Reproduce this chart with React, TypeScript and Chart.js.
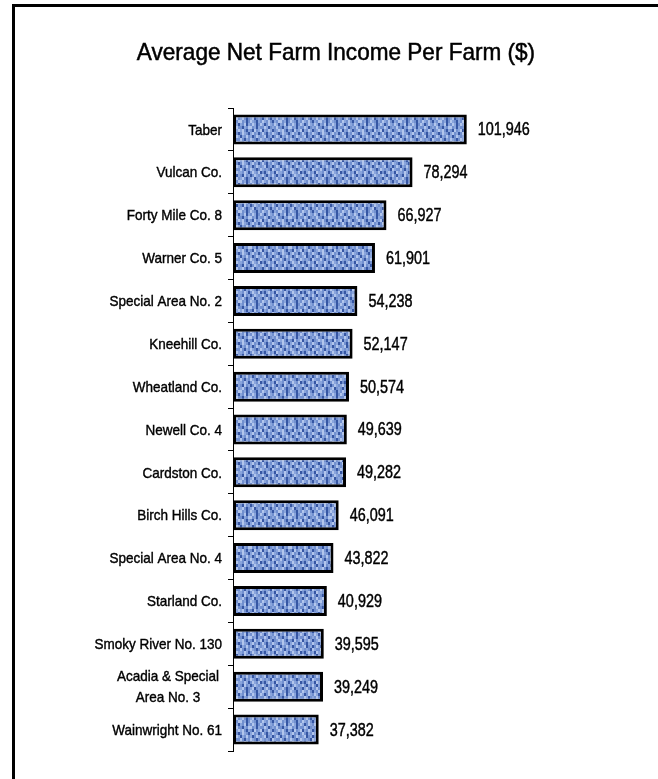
import React, { useEffect, useRef } from "react";
import { Chart, registerables } from "chart.js";

Chart.register(...registerables);

const chartTitle = "Average Net Farm Income Per Farm ($)";
const categories: (string | string[])[] = [
  "Taber",
  "Vulcan Co.",
  "Forty Mile Co. 8",
  "Warner Co. 5",
  "Special Area No. 2",
  "Kneehill Co.",
  "Wheatland Co.",
  "Newell Co. 4",
  "Cardston Co.",
  "Birch Hills Co.",
  "Special Area No. 4",
  "Starland Co.",
  "Smoky River No. 130",
  ["Acadia & Special", "Area No. 3"],
  "Wainwright No. 61",
];
const values = [
  101946, 78294, 66927, 61901, 54238, 52147, 50574, 49639, 49282, 46091, 43822,
  40929, 39595, 39249, 37382,
];
const axisMax = 150000;

const FONT = "'Liberation Sans', Arial, sans-serif";

// denim-like weave tile (style only)
const weaveRows = [
  "lmbdmlbmdbmlbmlmdbml",
  "bmldbmlbdmlbdmlbmlbd",
  "mdbmllmbdbmmlbdmbmlm",
  "blmdbmdlmbldbmlbdmbl",
  "mlbmdblmbdmlmdbmlbmd",
  "dbmlmbdmlbmbldmbdmlb",
  "lmdbmlbmdmlbmbmdlbmm",
  "bmlbdmlbmldmdblmbdlb",
  "mdlmbdmlbmblmdbmlmdb",
  "blmdmbldmbmdblmdbmlm",
];
const weaveColors: Record<string, string> = {
  l: "#b3c6ec",
  m: "#7290cf",
  b: "#8aa5dc",
  d: "#3656a3",
};

function makePattern(ctx: CanvasRenderingContext2D): CanvasPattern | string {
  const c = document.createElement("canvas");
  const cw = 2;
  const ch = 3;
  c.width = weaveRows[0].length * cw;
  c.height = weaveRows.length * ch;
  const t = c.getContext("2d");
  if (!t) return "#7f9ad6";
  weaveRows.forEach((row, r) => {
    row.split("").forEach((k, i) => {
      t.fillStyle = weaveColors[k];
      t.fillRect(i * cw, r * ch, cw, ch);
    });
  });
  return ctx.createPattern(c, "repeat") || "#7f9ad6";
}

function drawText(
  ctx: CanvasRenderingContext2D,
  text: string,
  x: number,
  y: number,
  align: CanvasTextAlign,
  sx: number,
  stroke: number
) {
  ctx.save();
  ctx.translate(x, y);
  ctx.scale(sx, 1);
  ctx.textAlign = align;
  ctx.fillText(text, 0, 0);
  if (stroke > 0) {
    ctx.lineWidth = stroke;
    ctx.strokeStyle = ctx.fillStyle as string;
    ctx.strokeText(text, 0, 0);
  }
  ctx.restore();
}

const decorPlugin = {
  id: "decor",
  beforeDraw(chart: any) {
    const ctx = chart.ctx as CanvasRenderingContext2D;
    ctx.save();
    ctx.fillStyle = "#ffffff";
    ctx.fillRect(0, 0, chart.width, chart.height);
    ctx.fillStyle = "#000000";
    ctx.fillRect(12, 4, chart.width - 12, 3);
    ctx.fillRect(12, 4, 3, chart.height - 4);
    ctx.fillStyle = "#000000";
    ctx.font = `24px ${FONT}`;
    ctx.textBaseline = "middle";
    drawText(ctx, chartTitle, 336, 53, "center", 0.94, 0.5);
    ctx.restore();
  },
  afterDatasetsDraw(chart: any) {
    const ctx = chart.ctx as CanvasRenderingContext2D;
    const meta = chart.getDatasetMeta(0);
    const yScale = chart.scales.y;
    ctx.save();
    ctx.fillStyle = "#000000";
    ctx.textBaseline = "middle";
    // value labels
    ctx.font = `18px ${FONT}`;
    meta.data.forEach((bar: any, i: number) => {
      drawText(ctx, values[i].toLocaleString("en-US"), bar.x + 11, bar.y + 1, "left", 0.8, 0.45);
    });
    // category labels
    ctx.font = `15px ${FONT}`;
    const sx = 0.9;
    const rightX = 222;
    categories.forEach((lab, i) => {
      const y = yScale.getPixelForValue(i) + 1;
      if (Array.isArray(lab)) {
        const w = Math.max(...lab.map((s) => ctx.measureText(s).width)) * sx;
        const cx = rightX - 3 - w / 2;
        const lh = 21;
        lab.forEach((s, j) => {
          drawText(ctx, s, cx, y + (j - (lab.length - 1) / 2) * lh, "center", sx, 0.4);
        });
      } else {
        drawText(ctx, lab, rightX, y, "right", sx, 0.4);
      }
    });
    ctx.restore();
  },
};

export default function App() {
  const ref = useRef<HTMLCanvasElement | null>(null);
  useEffect(() => {
    const canvas = ref.current;
    if (!canvas) return;
    const ctx = canvas.getContext("2d");
    if (!ctx) return;
    const pattern = makePattern(ctx);
    const chart = new Chart(ctx, {
      type: "bar",
      data: {
        labels: categories as any,
        datasets: [
          {
            data: values,
            backgroundColor: pattern as any,
            borderColor: "#000000",
            borderWidth: 3,
            borderSkipped: false,
            barPercentage: 0.7,
            categoryPercentage: 1,
          },
        ],
      },
      options: {
        indexAxis: "y",
        responsive: false,
        animation: false,
        devicePixelRatio: 1,
        layout: { padding: { top: 108, bottom: 28, left: 0, right: 81 } },
        plugins: {
          legend: { display: false },
          title: { display: false },
          tooltip: { enabled: false },
        },
        scales: {
          x: {
            display: false,
            min: 0,
            max: axisMax,
          },
          y: {
            afterFit: (s: any) => {
              s.width = 233;
            },
            ticks: { display: false },
            grid: {
              offset: true,
              drawOnChartArea: false,
              drawTicks: true,
              tickLength: 5,
              color: "#000000",
              lineWidth: 1,
            },
            border: { display: true, color: "#000000", width: 1 },
          },
        },
      },
      plugins: [decorPlugin],
    });
    return () => chart.destroy();
  }, []);
  return (
    <div style={{ position: "fixed", left: 0, top: 0, width: 658, height: 779, background: "#fff" }}>
      <canvas ref={ref} width={658} height={779} style={{ display: "block", width: 658, height: 779 }} />
    </div>
  );
}
